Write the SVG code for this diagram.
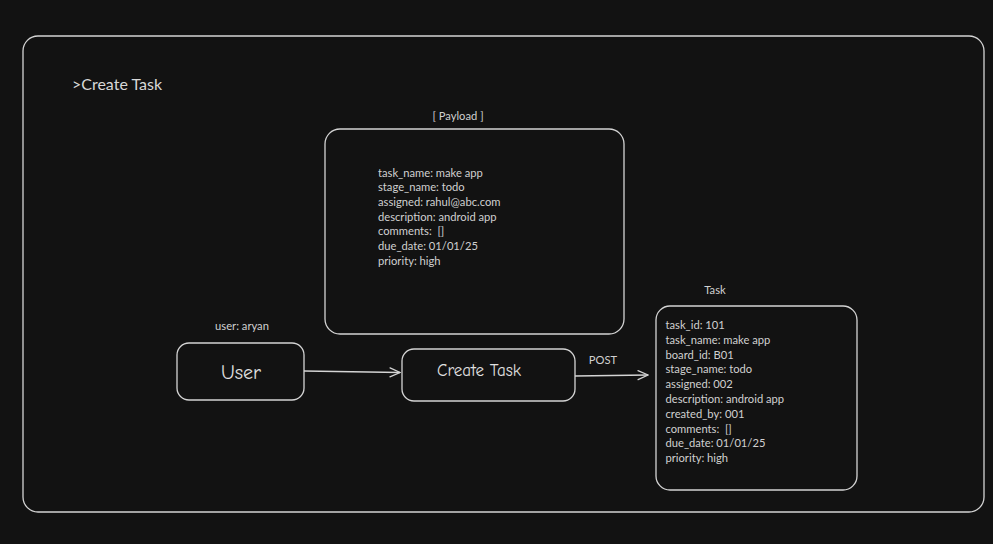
<svg xmlns="http://www.w3.org/2000/svg" width="993" height="544" viewBox="0 0 993 544">
  <defs>
    <marker id="arrow" viewBox="0 0 12 12" refX="11" refY="6" markerWidth="12" markerHeight="12" markerUnits="userSpaceOnUse" orient="auto">
      <path d="M1,1.5 L11,6 L1,10.5" fill="none" stroke="#d4d4d4" stroke-width="1.2" stroke-linecap="round"/>
    </marker>
    <style>
      .box { fill: none; stroke: #d4d4d4; stroke-width: 1.3; }
      .edge { fill: none; stroke: #d4d4d4; stroke-width: 1.3; marker-end: url(#arrow); }
      .txt { font-family: Lato, "Noto Sans", "Liberation Sans", sans-serif; font-size: 11.2px; fill: #d0d0d0; white-space: pre; }
      .title { font-family: Lato, "Noto Sans", "Liberation Sans", sans-serif; font-size: 16px; fill: #d8d8d8; }
      .hand { font-family: "Comic Neue", "DejaVu Sans", "Liberation Sans", sans-serif; fill: #e0e0e0; text-anchor: middle; }
    </style>
  </defs>

  <rect width="993" height="544" fill="#121212"/>

  <!-- outer frame -->
  <g id="frame">
    <rect class="box" x="23" y="36" width="961" height="476" rx="15"/>
    <text class="title" x="72" y="90">&gt;Create Task</text>
  </g>

  <!-- request payload -->
  <g id="payload">
    <text class="txt" x="458" y="119.5" text-anchor="middle">[ Payload ]</text>
    <rect class="box" x="325" y="129" width="299" height="205" rx="15"/>
    <text class="txt" x="378" y="176.5">task_name: make app</text>
    <text class="txt" x="378" y="191.2">stage_name: todo</text>
    <text class="txt" x="378" y="205.9">assigned: rahul@abc.com</text>
    <text class="txt" x="378" y="220.6">description: android app</text>
    <text class="txt" x="378" y="235.3" xml:space="preserve">comments:  []</text>
    <text class="txt" x="378" y="250">due_date: 01/01/25</text>
    <text class="txt" x="378" y="264.7">priority: high</text>
  </g>

  <!-- user node -->
  <g id="user">
    <text class="txt" x="242" y="329.5" text-anchor="middle">user: aryan</text>
    <rect class="box" x="177" y="343" width="127" height="57" rx="12"/>
    <text class="hand" x="241" y="378.5" font-size="20">User</text>
  </g>

  <!-- create task node -->
  <g id="create-task">
    <rect class="box" x="402" y="349" width="173" height="52" rx="12"/>
    <text class="hand" x="479" y="376" font-size="17">Create Task</text>
  </g>

  <!-- resulting task record -->
  <g id="task">
    <text class="txt" x="715" y="294" text-anchor="middle">Task</text>
    <rect class="box" x="656" y="306" width="201" height="184" rx="14"/>
    <text class="txt" x="665.5" y="329">task_id: 101</text>
    <text class="txt" x="665.5" y="343.8">task_name: make app</text>
    <text class="txt" x="665.5" y="358.6">board_id: B01</text>
    <text class="txt" x="665.5" y="373.4">stage_name: todo</text>
    <text class="txt" x="665.5" y="388.2">assigned: 002</text>
    <text class="txt" x="665.5" y="403">description: android app</text>
    <text class="txt" x="665.5" y="417.8">created_by: 001</text>
    <text class="txt" x="665.5" y="432.6" xml:space="preserve">comments:  []</text>
    <text class="txt" x="665.5" y="447.4">due_date: 01/01/25</text>
    <text class="txt" x="665.5" y="462.2">priority: high</text>
  </g>

  <!-- connectors -->
  <g id="connectors">
    <path class="edge" d="M304,371 L400,372.5"/>
    <path class="edge" d="M575,376 L648,375"/>
    <text class="txt" x="603" y="364" text-anchor="middle">POST</text>
  </g>
</svg>
